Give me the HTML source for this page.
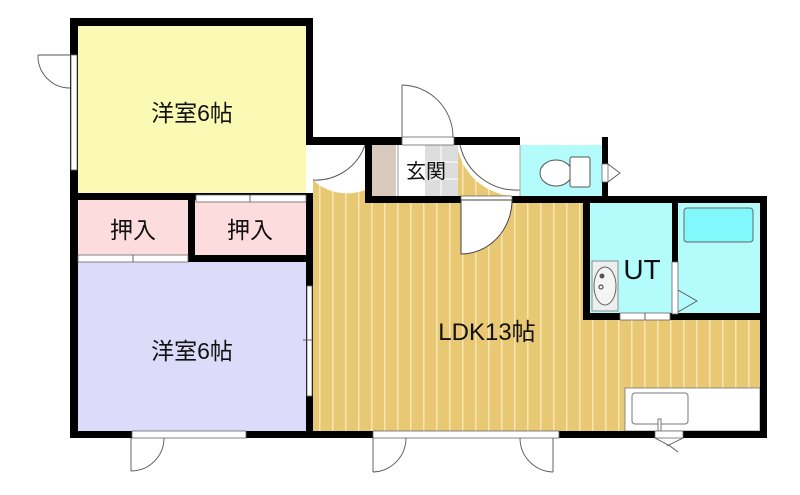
<!DOCTYPE html>
<html><head><meta charset="utf-8"><style>
html,body{margin:0;padding:0;background:#fff;width:800px;height:495px;overflow:hidden}
text{font-family:"Liberation Sans","Noto Sans CJK JP",sans-serif;fill:#111}
</style></head><body>
<svg width="800" height="495" viewBox="0 0 800 495" xmlns="http://www.w3.org/2000/svg">
<defs>
<pattern id="fl" x="313" y="0" width="13" height="10" patternUnits="userSpaceOnUse">
<rect width="13" height="10" fill="#e9c873"/><rect x="6" width="1.5" height="10" fill="#f7e6b4"/>
</pattern>
</defs>
<rect x="78" y="26" width="228" height="169" fill="#fafab4"/>
<rect x="78" y="200" width="110" height="56" fill="#fcdcdc"/>
<rect x="195" y="200" width="111" height="56" fill="#fcdcdc"/>
<rect x="78" y="262" width="228" height="169" fill="#dcdcfa"/>
<path d="M313 145 H365 V203 H583 V320 H760 V431 H313 Z" fill="url(#fl)"/>
<rect x="458" y="145" width="62" height="51" fill="url(#fl)"/>
<rect x="520" y="145" width="82" height="51" fill="#b4fcfc"/>
<rect x="590" y="203" width="170" height="110" fill="#b4fcfc"/>
<rect x="372" y="145" width="24" height="51" fill="#d8cbbd"/>
<rect x="400" y="145" width="58" height="51" fill="#fff"/>
<rect x="425" y="145" width="33" height="51" fill="#ddd"/>
<g stroke="#fff" stroke-width="1"><line x1="425" y1="162" x2="458" y2="162"/><line x1="425" y1="179" x2="458" y2="179"/><line x1="441" y1="145" x2="441" y2="196"/></g>
<line x1="398" y1="145" x2="398" y2="196" stroke="#999"/>
<path d="M313 145 H365 V190 A50 50 0 0 1 313 180 Z" fill="#fff"/>
<path d="M458 145 H520 V196 A60 60 0 0 1 458 150 Z" fill="#fff"/>
<path d="M313 180 A52 52 0 0 0 365 145" fill="none" stroke="#555"/>
<path d="M520 190 A58 58 0 0 1 460 145" fill="none" stroke="#555"/>
<rect x="625" y="388" width="135" height="43" fill="#fff" stroke="#777" stroke-width="0.8"/>
<rect x="632" y="393" width="56" height="31" rx="3" fill="#fff" stroke="#777"/>
<rect x="658" y="419" width="3" height="12" fill="#fff" stroke="#777"/>
<rect x="684" y="208" width="69" height="34" rx="3" fill="#80f8fc" stroke="#666"/>
<rect x="592" y="261" width="26" height="50" fill="#eee" stroke="#777" stroke-width="0.8"/>
<ellipse cx="605" cy="286" rx="11" ry="19" fill="#f4f4f4" stroke="#666"/>
<circle cx="601" cy="287" r="2" fill="none" stroke="#333"/><circle cx="602" cy="276" r="2.5" fill="#555"/>
<ellipse cx="556" cy="173" rx="16" ry="13" fill="#fff" stroke="#555"/>
<rect x="570" y="157" width="20" height="30" rx="2" fill="#fff" stroke="#555"/>
<g fill="#000">
<rect x="70" y="18" width="243" height="8"/>
<rect x="70" y="18" width="8" height="420"/>
<rect x="306" y="18" width="7" height="420"/>
<rect x="306" y="137" width="302" height="8"/>
<rect x="365" y="137" width="7" height="66"/>
<rect x="365" y="196" width="402" height="7"/>
<rect x="602" y="137" width="6" height="66"/>
<rect x="760" y="196" width="7" height="242"/>
<rect x="583" y="196" width="7" height="124"/>
<rect x="583" y="313" width="184" height="7"/>
<rect x="672" y="196" width="6" height="124"/>
<rect x="70" y="193" width="243" height="7"/>
<rect x="188" y="193" width="7" height="69"/>
<rect x="70" y="255" width="243" height="7"/>
<rect x="70" y="431" width="697" height="7"/>
</g>
<g fill="#fff" stroke="#666" stroke-width="0.8">
<rect x="71" y="55" width="6" height="115"/>
<rect x="306" y="145" width="7" height="48" stroke="none"/>
<rect x="402" y="137" width="52" height="8"/>
<rect x="520" y="137" width="82" height="8" stroke="none"/>
<rect x="196" y="195" width="110" height="7"/>
<rect x="78" y="255" width="110" height="7"/>
<rect x="307" y="286" width="5" height="110"/>
<rect x="132" y="431" width="114" height="7"/>
<rect x="373" y="431" width="186" height="7"/>
<rect x="461" y="196" width="51" height="7"/>
<rect x="620" y="313" width="50" height="7"/>
<rect x="672" y="262" width="6" height="52"/>
<rect x="602" y="164" width="6" height="18"/>
<rect x="655" y="431" width="28" height="7"/>
</g>
<line x1="520" y1="145" x2="520" y2="196" stroke="#aaa"/>
<g stroke="#555" fill="none" stroke-width="0.9">
<line x1="250" y1="195" x2="250" y2="202"/><line x1="133" y1="255" x2="133" y2="262"/>
<line x1="303" y1="340" x2="312" y2="340"/><line x1="645" y1="313" x2="645" y2="320"/>
<path d="M38 55 A32 32 0 0 0 70 88"/><line x1="38" y1="55" x2="70" y2="55"/>
<path d="M402 85 A52 52 0 0 1 453 137"/><line x1="402" y1="85" x2="402" y2="137"/>
<path d="M131 471 A33 33 0 0 0 164 438"/><line x1="131" y1="438" x2="131" y2="471"/>
<path d="M373 472 A34 34 0 0 0 406 438"/><line x1="373" y1="438" x2="373" y2="472"/>
<path d="M553 472 A34 34 0 0 1 520 438"/><line x1="553" y1="438" x2="553" y2="472"/>
<path d="M608 164 L620 173 L608 182"/>
<path d="M678 290 L697 301 L678 312"/>
<path d="M655 438 L670 446 L678 452"/><line x1="683" y1="438" x2="667" y2="446"/>
</g>
<path d="M461 200 V254 A51 54 0 0 0 512 200 Z" fill="#fff" stroke="#444"/>
<text x="192" y="121" font-size="23" text-anchor="middle">洋室6帖</text>
<text x="192" y="359" font-size="23" text-anchor="middle">洋室6帖</text>
<text x="133" y="238" font-size="23" text-anchor="middle">押入</text>
<text x="250" y="238" font-size="23" text-anchor="middle">押入</text>
<text x="487" y="340" font-size="24" text-anchor="middle">LDK13帖</text>
<text x="642" y="279" font-size="28" text-anchor="middle">UT</text>
<text x="426" y="178" font-size="20" text-anchor="middle">玄関</text>
</svg>
</body></html>
